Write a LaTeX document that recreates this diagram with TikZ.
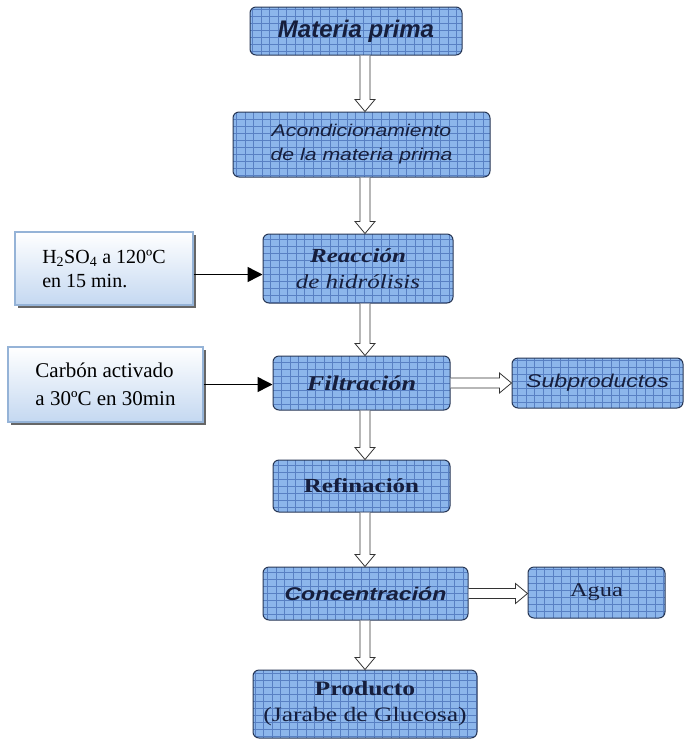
\documentclass[tikz,border=0pt]{standalone}
\usepackage{fontspec}
\setmainfont{Liberation Serif}
\setsansfont{Liberation Sans}
\newfontfamily\anchaserif{Liberation Serif}[FakeStretch=1.25]
\newfontfamily\anchasans{Liberation Sans}[FakeStretch=1.25]
\usetikzlibrary{calc,shadows,arrows.meta}

\definecolor{celda}{RGB}{140,182,235}
\definecolor{rejilla}{RGB}{88,128,195}
\definecolor{borde}{RGB}{40,55,85}
\definecolor{texto}{RGB}{22,30,60}
\definecolor{notaborde}{RGB}{149,179,215}
\definecolor{notafondo}{RGB}{196,216,241}

\tikzset{
  caja/.style={draw=borde, line width=1pt, rounded corners=6pt, fill=celda,
    inner sep=2pt, align=center, text=texto,
    path picture={\draw[rejilla, line width=0.4pt, xstep=8.5, ystep=7]
      (path picture bounding box.south west) grid (path picture bounding box.north east);}},
  nota/.style={draw=notaborde, line width=1.2pt, top color=white, bottom color=notafondo,
    drop shadow={shadow xshift=3pt, shadow yshift=-3pt, fill=black!60, opacity=1},
    align=left, inner sep=0pt},
  flecha/.style={draw=black!80, line width=0.8pt, fill=white, line join=miter},
  conector/.style={line width=1.5pt, -{Triangle[length=15pt, width=15pt]}}
}

% flecha hueca vertical y horizontal
\newcommand{\flechav}[2]{%
  \draw[flecha] ($(eje |- #1.south)+(-5,0)$) -- ($(eje |- #2.north)+(-5,12)$)
    -- ($(eje |- #2.north)+(-10,12)$) -- (eje |- #2.north)
    -- ($(eje |- #2.north)+(10,12)$) -- ($(eje |- #2.north)+(5,12)$)
    -- ($(eje |- #1.south)+(5,0)$);}
\newcommand{\flechah}[2]{%
  \draw[flecha] ($(#1.east)+(0,5)$) -- ($(#2.west |- #1.east)+(-12,5)$)
    -- ($(#2.west |- #1.east)+(-12,10)$) -- (#2.west |- #1.east)
    -- ($(#2.west |- #1.east)+(-12,-10)$) -- ($(#2.west |- #1.east)+(-12,-5)$)
    -- ($(#1.east)+(0,-5)$);}

\begin{document}
\begin{tikzpicture}[x=1pt, y=1pt]
  \useasboundingbox (0,0) rectangle (686,-740);
  \coordinate (eje) at (365,0);

  % Etapas del proceso
  \node[caja, minimum width=212, minimum height=48, font={\sffamily\fontsize{24}{28}\selectfont\bfseries\itshape}]
    (materia) at (356,-31) {Materia prima};
  \node[caja, minimum width=257, minimum height=65, font={\anchasans\fontsize{17}{24}\selectfont\itshape}]
    (acond) at (361.5,-144.5) {Acondicionamiento\\de la materia prima};
  \node[caja, minimum width=190, minimum height=69, font={\anchaserif\fontsize{20}{26}\selectfont}]
    (reaccion) at (358,-268.5) {{\bfseries\itshape Reacción}\\{\itshape de hidrólisis}};
  \node[caja, minimum width=177, minimum height=54, font={\anchaserif\fontsize{21}{25}\selectfont\bfseries\itshape}]
    (filtracion) at (361.5,-383) {Filtración};
  \node[caja, minimum width=171, minimum height=50, font={\anchasans\fontsize{18.5}{22}\selectfont\itshape}]
    (subprod) at (597.5,-383) {Subproductos};
  \node[caja, minimum width=177, minimum height=52, font={\anchaserif\fontsize{20}{24}\selectfont\bfseries}]
    (refinacion) at (361.5,-486) {Refinación};
  \node[caja, minimum width=205, minimum height=53, font={\anchasans\fontsize{18.5}{22}\selectfont\bfseries\itshape}]
    (concentracion) at (365.5,-593.5) {Concentración};
  \node[caja, minimum width=137, minimum height=51, font={\anchaserif\fontsize{19.5}{23}\selectfont}]
    (agua) at (596.5,-592.5) {Agua};
  \node[caja, minimum width=224, minimum height=68, font={\anchaserif\fontsize{20.5}{26}\selectfont}]
    (producto) at (365,-704) {{\bfseries Producto}\\(Jarabe de Glucosa)};

  % Condiciones
  \node[nota, minimum width=178, minimum height=73, font={\fontsize{20}{24}\selectfont}]
    (acido) at (104,-268.5) {H\textsubscript{2}SO\textsubscript{4} a 120ºC\\en 15 min.};
  \node[nota, minimum width=195, minimum height=75, font={\fontsize{21}{28}\selectfont}]
    (carbon) at (105.5,-384.5) {Carbón activado\\a 30ºC en 30min};

  % Flechas huecas
  \flechav{materia}{acond}
  \flechav{acond}{reaccion}
  \flechav{reaccion}{filtracion}
  \flechav{filtracion}{refinacion}
  \flechav{refinacion}{concentracion}
  \flechav{concentracion}{producto}
  \flechah{filtracion}{subprod}
  \flechah{concentracion}{agua}

  % Entradas
  \coordinate (c1) at ([yshift=-6pt]acido.east);
  \draw[conector] (c1) -- (c1 -| reaccion.west);
  \draw[conector] (carbon.east) -- (carbon.east -| filtracion.west);
\end{tikzpicture}
\end{document}
